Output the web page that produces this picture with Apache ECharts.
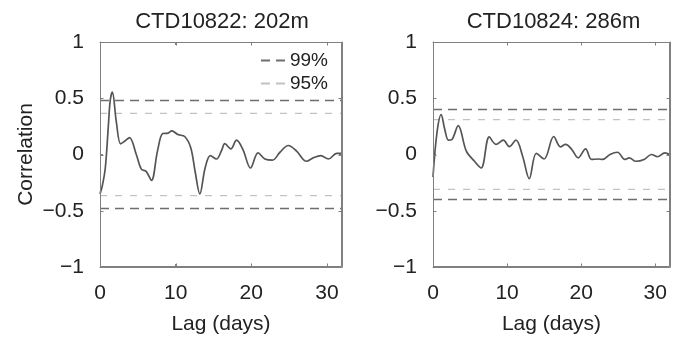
<!DOCTYPE html>
<html>
<head>
<meta charset="utf-8">
<script src="https://cdn.jsdelivr.net/npm/echarts@6/dist/echarts.min.js"></script>
<style>
  html, body { margin: 0; padding: 0; background: #fff; }
  #chart { width: 673px; height: 340px; }
</style>
</head>
<body>
<div id="chart"></div>
<script>
// lag in days, correlation values
var lagA = [0, 0.3, 0.7, 1.1, 1.35, 1.63, 2.16, 2.73, 3.3, 3.9, 4.8, 5.46, 6.1, 6.8, 7.6, 8.3, 9.0, 9.5, 10.3, 11.2, 12.0, 12.6, 13.2, 13.9, 14.6, 15.4, 16.1, 16.5, 17.3, 18.05, 18.9, 19.9, 20.9, 21.8, 22.8, 23.8, 24.9, 26.0, 27.3, 28.2, 29.2, 30.2, 31.3, 32];
var corrA = [-0.35, -0.28, -0.12, 0.25, 0.48, 0.555, 0.29, 0.095, 0.12, 0.15, 0.0, -0.13, -0.15, -0.23, 0.03, 0.186, 0.19, 0.21, 0.177, 0.16, 0.06, -0.16, -0.35, -0.12, -0.01, -0.04, 0.04, 0.097, 0.05, 0.127, 0.044, -0.12, 0.015, -0.04, -0.05, 0.02, 0.08, 0.03, -0.06, -0.03, -0.01, -0.04, 0.01, 0.01];

var lagB = [0, 0.53, 1.1, 1.6, 2.08, 2.5, 3.4, 4.5, 5.6, 6.5, 7.6, 8.5, 9.5, 10.3, 11.2, 12.1, 13.0, 13.95, 15.0, 16.3, 17.2, 17.9, 18.75, 19.6, 20.6, 21.4, 22.3, 22.9, 23.9, 24.9, 25.9, 26.5, 27.4, 28.5, 29.5, 30.3, 31.3, 32];
var corrB = [-0.2, 0.19, 0.354, 0.22, 0.127, 0.13, 0.257, 0.03, -0.06, -0.12, 0.156, 0.09, 0.127, 0.07, 0.127, -0.015, -0.215, 0.01, -0.04, 0.16, 0.068, 0.09, 0.044, -0.03, 0.05, -0.044, -0.04, -0.044, 0.0, 0.02, -0.044, -0.03, -0.06, -0.044, 0.0, -0.02, 0.015, 0.0];

var titles = ['CTD10822: 202m', 'CTD10824: 286m'];
var sig99 = [0.48, 0.40];
var sig95 = [0.365, 0.31];
var lagRange = [0, 32];
var corrRange = [-1, 1];
var xTicks = [0, 10, 20, 30];
var yTicks = [-1, -0.5, 0, 0.5, 1];

var font = 'Liberation Sans, Arial, Helvetica, sans-serif';
var txt = '#222';
var frame = '#808080';

function pairs(xs, ys) {
    var out = [];
    for (var i = 0; i < xs.length; i++) out.push([xs[i], ys[i]]);
    return out;
}
function level(v) {
    return [[lagRange[0], v], [lagRange[1], v]];
}
function fmt(v) {
    return String(v).replace('-', '\u2212');
}
function frameLine() {
    return { show: true, onZero: false, lineStyle: { color: frame, width: 1 } };
}
function frameTick() {
    return { show: true, inside: true, length: 3, lineStyle: { color: frame, width: 1 } };
}

var grids = [
    { left: 100, top: 42, width: 242, height: 226 },
    { left: 433, top: 42, width: 239, height: 226 }
];

var dashIcon = 'path://M0,0H9V2H0Z M15,0H24V2H15Z';

var option = {
    animation: false,
    title: [],
    legend: {
        orient: 'vertical',
        right: 340,
        top: 46,
        itemGap: 4,
        itemWidth: 24,
        itemHeight: 2,
        data: [{ name: '99%', icon: dashIcon }, { name: '95%', icon: dashIcon }],
        textStyle: { fontSize: 19, color: txt, fontFamily: font }
    },
    grid: [],
    xAxis: [],
    yAxis: [],
    series: []
};

grids.forEach(function (g, i) {
    option.grid.push({
        left: g.left, top: g.top, width: g.width, height: g.height
    });
    option.title.push({
        text: titles[i],
        left: g.left + g.width / 2 - 4,
        top: 6,
        textAlign: 'center',
        textStyle: { fontSize: 22, fontWeight: 'normal', color: txt, fontFamily: font }
    });
    // bottom / left axes with labels
    option.xAxis.push({
        gridIndex: i, type: 'value', min: lagRange[0], max: lagRange[1], interval: 10,
        name: 'Lag (days)', nameLocation: 'middle', nameGap: 47,
        nameTextStyle: { fontSize: 21, color: txt, fontFamily: font },
        axisLine: frameLine(), axisTick: frameTick(),
        axisLabel: { fontSize: 21, color: txt, margin: 16, fontFamily: font,
            formatter: function (v) { return xTicks.indexOf(v) >= 0 ? fmt(v) : ''; } },
        splitLine: { show: false }
    });
    option.yAxis.push({
        gridIndex: i, type: 'value', min: corrRange[0], max: corrRange[1], interval: 0.5,
        name: i === 0 ? 'Correlation' : '', nameLocation: 'middle', nameGap: 63,
        nameTextStyle: { fontSize: 21, color: txt, fontFamily: font },
        axisLine: frameLine(), axisTick: frameTick(),
        axisLabel: { fontSize: 21, color: txt, margin: 16, fontFamily: font, formatter: fmt },
        splitLine: { show: false }
    });
    // top / right axes, frame and ticks only
    option.xAxis.push({
        gridIndex: i, type: 'value', min: lagRange[0], max: lagRange[1], interval: 10, position: 'top',
        axisLine: frameLine(), axisTick: frameTick(),
        axisLabel: { show: false }, splitLine: { show: false }
    });
    option.yAxis.push({
        gridIndex: i, type: 'value', min: corrRange[0], max: corrRange[1], interval: 0.5, position: 'right',
        axisLine: frameLine(), axisTick: frameTick(),
        axisLabel: { show: false }, splitLine: { show: false }
    });
});

function dark() { return { color: '#6e6e6e', width: 1.5, type: [9, 6] }; }
function light() { return { color: '#c2c2c2', width: 1.3, type: [7, 8] }; }

[0, 1].forEach(function (i) {
    var xi = i * 2, yi = i * 2;
    [sig99[i], -sig99[i]].forEach(function (v) {
        option.series.push({
            name: '99%', type: 'line', xAxisIndex: xi, yAxisIndex: yi,
            data: level(v), symbol: 'none', silent: true,
            lineStyle: dark(), itemStyle: { color: '#6e6e6e' }
        });
    });
    [sig95[i], -sig95[i]].forEach(function (v) {
        option.series.push({
            name: '95%', type: 'line', xAxisIndex: xi, yAxisIndex: yi,
            data: level(v), symbol: 'none', silent: true,
            lineStyle: light(), itemStyle: { color: '#c2c2c2' }
        });
    });
    option.series.push({
        name: 'acf' + i, type: 'line', xAxisIndex: xi, yAxisIndex: yi,
        data: i === 0 ? pairs(lagA, corrA) : pairs(lagB, corrB),
        symbol: 'none', smooth: 0.35,
        lineStyle: { color: '#555', width: 1.7 }
    });
});

var myChart = echarts.init(document.getElementById('chart'));
myChart.setOption(option);

// box frame and inward ticks, placed through each grid's own scales
var box = [];
[0, 1].forEach(function (i) {
    var f = { gridIndex: i };
    var p0 = myChart.convertToPixel(f, [lagRange[0], corrRange[0]]);
    var p1 = myChart.convertToPixel(f, [lagRange[1], corrRange[1]]);
    var x0 = Math.round(p0[0]) + 0.5, y0 = Math.round(p0[1]) - 0.5;
    var x1 = Math.round(p1[0]) - 0.5, y1 = Math.round(p1[1]) + 0.5;
    box.push({
        type: 'rect', z: 100, silent: true,
        shape: { x: x0, y: y1, width: x1 - x0, height: y0 - y1 },
        style: { fill: 'none', stroke: frame, lineWidth: 1 }
    });
    xTicks.forEach(function (t) {
        var x = Math.round(myChart.convertToPixel(f, [t, 0])[0]) + 0.5;
        box.push({ type: 'line', z: 100, silent: true, shape: { x1: x, y1: y0, x2: x, y2: y0 - 3 }, style: { stroke: frame, lineWidth: 1 } });
        box.push({ type: 'line', z: 100, silent: true, shape: { x1: x, y1: y1, x2: x, y2: y1 + 3 }, style: { stroke: frame, lineWidth: 1 } });
    });
    yTicks.forEach(function (t) {
        var y = Math.round(myChart.convertToPixel(f, [0, t])[1]) + 0.5;
        box.push({ type: 'line', z: 100, silent: true, shape: { x1: x0, y1: y, x2: x0 + 3, y2: y }, style: { stroke: frame, lineWidth: 1 } });
        box.push({ type: 'line', z: 100, silent: true, shape: { x1: x1, y1: y, x2: x1 - 3, y2: y }, style: { stroke: frame, lineWidth: 1 } });
    });
});
myChart.setOption({ graphic: box });

window.onresize = function () {
    myChart.resize();
};
</script>
</body>
</html>
